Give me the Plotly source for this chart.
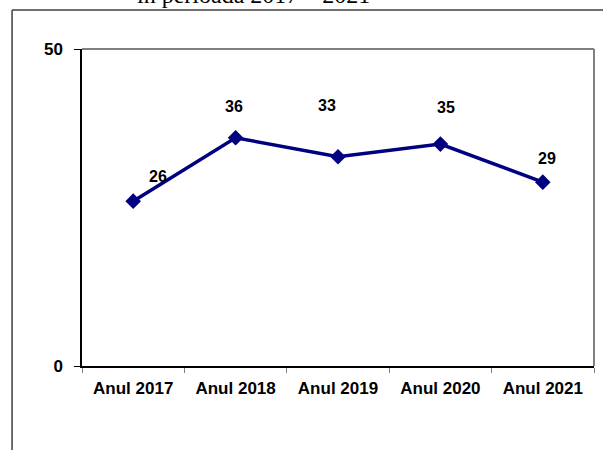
import plotly.graph_objects as go

categories = ["Anul 2017", "Anul 2018", "Anul 2019", "Anul 2020", "Anul 2021"]
values = [26, 36, 33, 35, 29]
y_ticks = [0, 50]
title_text = "în perioada 2017 – 2021"

# label offsets in pixels (layout only)
label_dx = [25, -2, -11, 6, 4]
label_dy = [25, 31, 51, 37, 24]

W, H = 603, 450
L, R, T, B = 82, 8.5, 49, 84
pw = W - L - R
ph = H - T - B

def px(x):
    return (x - L) / pw

def py(y):
    return (H - B - y) / ph

fig = go.Figure()
fig.add_trace(go.Scatter(
    x=categories, y=values, mode="lines+markers",
    line=dict(color="#000080", width=3.5),
    marker=dict(symbol="diamond", size=12, color="#000080"),
    hoverinfo="skip", showlegend=False,
))

annotations = []
for c, v, dx, dy in zip(categories, values, label_dx, label_dy):
    annotations.append(dict(
        x=c, y=v, xref="x", yref="y", text=str(v), showarrow=False,
        xshift=dx, yshift=dy, xanchor="center", yanchor="middle",
        font=dict(family="Liberation Sans, Arial", size=16, color="black", weight="bold"),
    ))

annotations.append(dict(
    x=px(253), y=py(4), xref="paper", yref="paper", text=title_text, showarrow=False,
    xanchor="center", yanchor="bottom", yshift=-6,
    font=dict(family="Liberation Serif, Times New Roman", size=24, color="black"),
))

shapes = [
    # outer frame left and top
    dict(type="line", xref="paper", yref="paper", x0=px(12), x1=px(12), y0=py(10), y1=py(452),
         line=dict(color="#404040", width=1.5)),
    dict(type="line", xref="paper", yref="paper", x0=px(12), x1=px(606), y0=py(10), y1=py(10),
         line=dict(color="#404040", width=1.5)),
    # plot area top and right (gray)
    dict(type="line", xref="paper", yref="paper", x0=0, x1=1, y0=1, y1=1,
         line=dict(color="#808080", width=2)),
    dict(type="line", xref="paper", yref="paper", x0=1, x1=1, y0=0, y1=1,
         line=dict(color="#808080", width=2)),
]

fig.update_layout(
    width=W, height=H,
    margin=dict(l=L, r=R, t=T, b=B),
    paper_bgcolor="white", plot_bgcolor="white",
    annotations=annotations, shapes=shapes,
    xaxis=dict(
        type="category", tickson="boundaries", ticks="outside", ticklen=5,
        tickcolor="#808080", tickwidth=1,
        showline=True, linecolor="black", linewidth=1.5,
        showgrid=False, zeroline=False, range=[-0.5, 4.5],
        ticklabelstandoff=6,
        tickfont=dict(family="Liberation Sans, Arial", size=17, color="black", weight="bold"),
    ),
    yaxis=dict(
        range=[0, 50], tickvals=y_ticks, ticks="outside", ticklen=6,
        tickcolor="black", tickwidth=1,
        showline=True, linecolor="black", linewidth=1.5,
        showgrid=False, zeroline=False,
        ticklabelstandoff=8,
        tickfont=dict(family="Liberation Sans, Arial", size=17, color="black", weight="bold"),
    ),
)

fig.write_html(
    "out.html",
    config={"displayModeBar": False},
    post_script="document.body.style.margin='0';document.body.style.padding='0';",
)
